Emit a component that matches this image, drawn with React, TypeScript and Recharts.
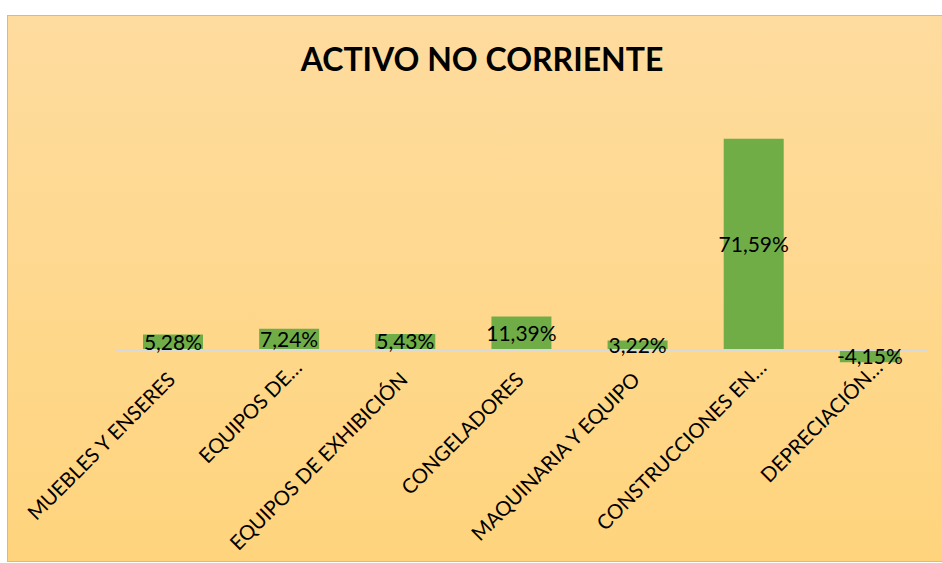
import React from "react";
import { BarChart, Bar, XAxis, YAxis, ReferenceLine, LabelList } from "recharts";

const categories = [
  "MUEBLES Y ENSERES",
  "EQUIPOS DE…",
  "EQUIPOS DE EXHIBICIÓN",
  "CONGELADORES",
  "MAQUINARIA Y EQUIPO",
  "CONSTRUCCIONES EN…",
  "DEPRECIACIÓN…",
];
const values = [5.28, 7.24, 5.43, 11.39, 3.22, 71.59, -4.15];
const yDomain = [-10, 80];

const data = categories.map((name, i) => ({ name, value: values[i] }));

const FONT = "Lato, 'Noto Sans', sans-serif";

const fmt = (v: any) => `${Number(v).toFixed(2).replace(".", ",")}%`;

const Tick = (props: any) => {
  const { x, y, payload } = props;
  const label: string = payload.value;
  const truncated = label.endsWith("…");
  const ax = x + (truncated ? 14 : 3.5);
  const ay = y + (truncated ? -10.5 : 1.5);
  return (
    <text
      x={ax}
      y={ay}
      transform={`rotate(-45, ${ax}, ${ay})`}
      textAnchor="end"
      fontFamily={FONT}
      fontSize={20.3}
      fill="#000"
    >
      {label}
    </text>
  );
};

export default function App() {
  return (
    <>
      <style>{`body{margin:0;overflow:hidden;background:#fff}`}</style>
      <div
        style={{
          position: "absolute",
          left: 7,
          top: 15,
          width: 940,
          height: 547,
          boxSizing: "border-box",
          border: "1px solid #FFC000",
          background: "linear-gradient(to bottom, #FEDC9F 0%, #FFD47D 100%)",
        }}
      >
        <BarChart
          width={938}
          height={545}
          data={data}
          margin={{ top: 98, left: 107, right: 18, bottom: 151.5 }}
        >
          <YAxis hide domain={yDomain} type="number" allowDataOverflow />
          <XAxis
            dataKey="name"
            height={30}
            axisLine={false}
            tickLine={false}
            tickSize={0}
            tickMargin={0}
            interval={0}
            tick={<Tick />}
          />
          <ReferenceLine y={0} stroke="#D9D9D9" strokeWidth={2} />
          <Bar dataKey="value" fill="#70AD47" barSize={60} isAnimationActive={false}>
            <LabelList
              dataKey="value"
              position="center"
              formatter={fmt}
              fill="#000"
              fontFamily={FONT}
              fontSize={21}
            />
          </Bar>
        </BarChart>
      </div>
      <div
        style={{
          position: "absolute",
          left: 232,
          top: 42.6,
          width: 500,
          textAlign: "center",
          fontFamily: FONT,
          fontWeight: 700,
          fontSize: 32,
          lineHeight: 1,
          color: "#000",
          whiteSpace: "nowrap",
        }}
      >
        ACTIVO NO CORRIENTE
      </div>
    </>
  );
}
